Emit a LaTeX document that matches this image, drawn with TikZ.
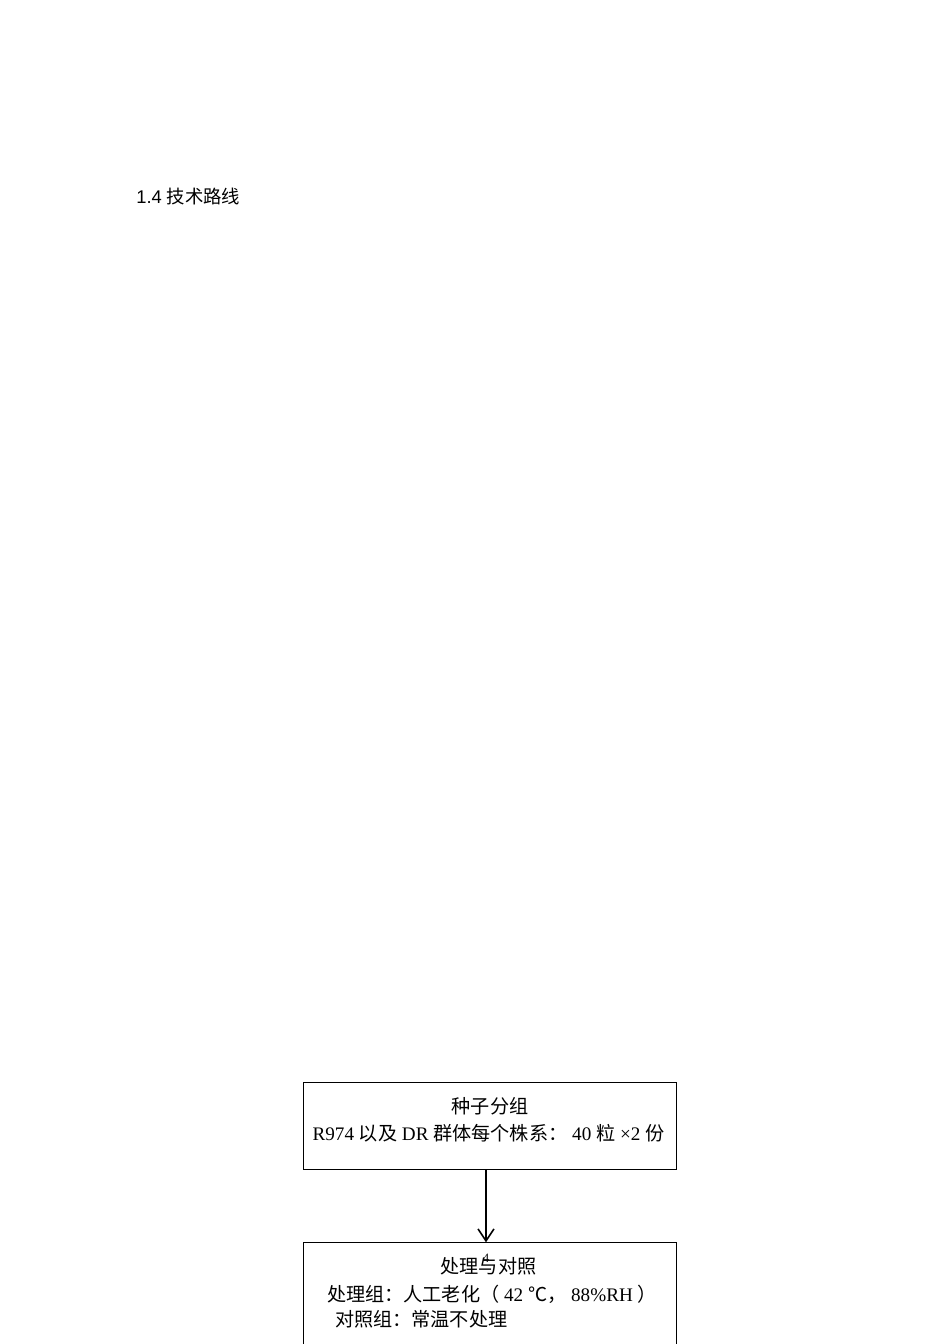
\documentclass[tikz,border=0pt]{standalone}
\usepackage{fontspec}
\setmainfont{Liberation Serif}
\newfontfamily\cjk{Noto Sans CJK SC}
\newfontfamily\latsans{Liberation Sans}
\usetikzlibrary{arrows.meta}
\tikzset{
  flowbox/.style={draw=black, line width=0.7pt},
  txt/.style={inner sep=0pt, outer sep=0pt, font=\fontsize{12pt}{14pt}\selectfont},
  flowarrow/.style={draw=black, line width=0.7pt, -{Straight Barb[length=7.5pt,width=10pt,line width=1pt]}},
}
\begin{document}
\begin{tikzpicture}[x=0.62663pt, y=-0.62663pt]
\useasboundingbox (0,0) rectangle (950,1344);
\clip (0,0) rectangle (950,1344);
% title
\node[inner sep=0pt, anchor=base west, font=\fontsize{11.5pt}{13pt}\selectfont] (title) at (136,203) {\latsans 1.4 \cjk 技术路线};
% box 1
\node[flowbox, minimum width=373*0.62663pt, minimum height=87*0.62663pt, anchor=north west, inner sep=0pt] (box1) at (303.3,1082.3) {};
\node[txt, anchor=base] (b1l1) at (490,1113) {\cjk 种子分组};
\node[txt, anchor=base] (b1l2) at (488.5,1140) {R974 {\cjk 以及} DR {\cjk 群体每个株系：} 40 {\cjk 粒} ×2 {\cjk 份}};
% box 2 (cut off by page edge)
\node[flowbox, minimum width=373*0.62663pt, minimum height=160*0.62663pt, anchor=north west, inner sep=0pt] (box2) at (303.3,1242.3) {};
\node[txt, anchor=base] (b2l1) at (488.5,1273) {\cjk 处理与对照};
\node[txt, anchor=base west] (b2l2) at (327,1301) {{\cjk 处理组：人工老化（} 42 {\cjk ℃，} 88\%RH {\cjk ）}};
\node[txt, anchor=base west] (b2l3) at (335,1326) {\cjk 对照组：常温不处理};
% page number
\node[inner sep=0pt, anchor=base west, font=\fontsize{8pt}{9pt}\selectfont] (pgnum) at (482.5,1262) {4};
% connector
\draw[flowarrow] (box1.south -| 486,0) -- (box2.north -| 486,0);
\end{tikzpicture}
\end{document}
